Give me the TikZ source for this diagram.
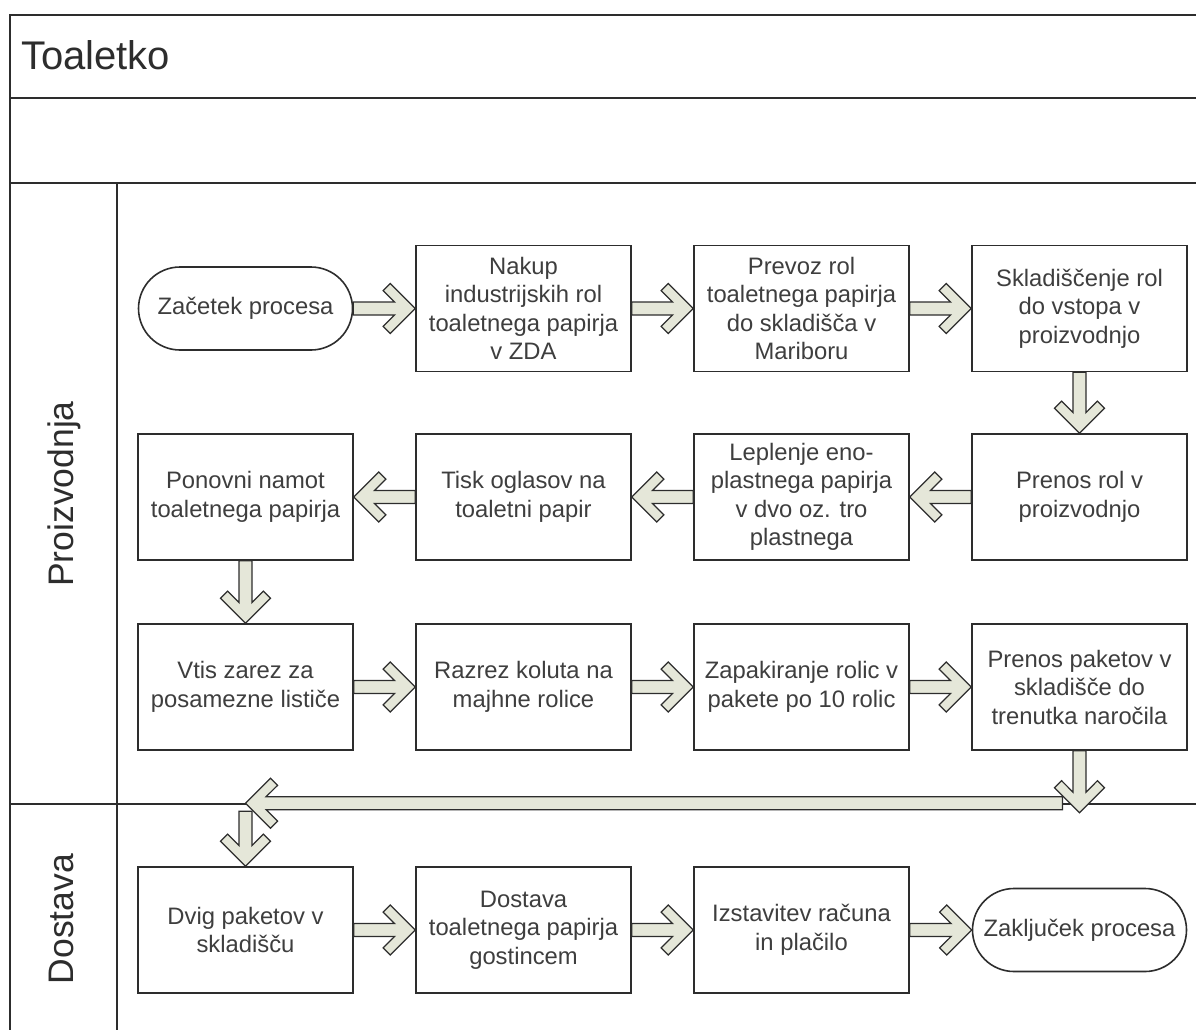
\documentclass[tikz,border=0pt]{standalone}
\usepackage{fontspec}
\setmainfont{Liberation Sans}
\usetikzlibrary{positioning}
\usetikzlibrary{shapes.misc}
\usetikzlibrary{calc}

\definecolor{linegray}{RGB}{45,45,45}
\definecolor{textgray}{RGB}{62,62,62}
\definecolor{arrowfill}{RGB}{229,231,217}

% point of a block arrow: #1 back from the tip, #2 to the side
\newcommand{\arrpt}[2]{({\x2-(#1)*\n2-(#2)*\n3},{\y2-(#1)*\n3+(#2)*\n2})}

\begin{document}
\begin{tikzpicture}[x=1pt,y=-1pt,node distance=278pt,
    box node/.style={rectangle,draw=linegray,line width=1.6pt,fill=white,
      minimum width=215pt,minimum height=126pt,inner sep=0pt,align=center,
      text=textgray,font=\fontsize{23.8}{28.5}\selectfont},
    term node/.style={box node,rounded rectangle,minimum width=214pt,minimum height=83pt},
    lane/.style={draw=linegray,line width=1.6pt},
    every edge/.style={draw=linegray,fill=arrowfill,line width=1.2pt,line join=miter,
      to path={let \p1=(\tikztostart),\p2=(\tikztotarget),
        \n1={veclen(\x2-\x1,\y2-\y1)},\n2={(\x2-\x1)/\n1},\n3={(\y2-\y1)/\n1} in
        \arrpt{\n1}{6.5} -- \arrpt{20.6}{6.5} -- \arrpt{32.1}{17.9} -- \arrpt{25}{25}
        -- (\p2) -- \arrpt{25}{-25} -- \arrpt{32.1}{-17.9} -- \arrpt{20.6}{-6.5}
        -- \arrpt{\n1}{-6.5} -- cycle}}]

  \useasboundingbox (0,0) rectangle (1196,1030);

  % pool and lanes
  \draw[lane] (1196,15) -- (10,15) -- (10,1030);
  \draw[lane] (10,98) -- (1196,98);
  \draw[lane] (10,183) -- (1196,183);
  \draw[lane] (10,804) -- (1196,804);
  \draw[lane] (117,183) -- (117,1030);

  \node[anchor=base west,inner sep=0pt,text=linegray,font=\fontsize{40}{44}\selectfont] (title) at (21,70) {Toaletko};
  \node[rotate=90,anchor=base,inner sep=0pt,text=linegray,font=\fontsize{35.5}{40}\selectfont] (lane1) at (73,494) {Proizvodnja};
  \node[rotate=90,anchor=base,inner sep=0pt,text=linegray,font=\fontsize{35.5}{40}\selectfont] (lane2) at (73,919) {Dostava};

  \node[term node] (0) at (245.5,308.5) {Začetek procesa};
  \node[box node] (1) [right of=0] {Nakup\\industrijskih rol\\toaletnega papirja\\v ZDA};
  \node[box node] (2) [right of=1] {Prevoz rol\\toaletnega papirja\\do skladišča v\\Mariboru};
  \node[box node] (3) [right of=2] {Skladiščenje rol\\do vstopa v\\proizvodnjo};
  \node[box node] (4) [node distance=188.5pt,below of=3] {Prenos rol v\\proizvodnjo};
  \node[box node] (5) [left of=4] {Leplenje eno-\\plastnega papirja\\v dvo oz. tro\\plastnega};
  \node[box node] (6) [left of=5] {Tisk oglasov na\\toaletni papir};
  \node[box node] (7) [left of=6] {Ponovni namot\\toaletnega papirja};
  \node[box node] (8) [node distance=190pt,below of=7] {Vtis zarez za\\posamezne lističe};
  \node[box node] (9) [right of=8] {Razrez koluta na\\majhne rolice};
  \node[box node] (10) [right of=9] {Zapakiranje rolic v\\pakete po 10 rolic};
  \node[box node] (11) [right of=10] {Prenos paketov v\\skladišče do\\trenutka naročila};
  \node[box node] (12) [node distance=243pt,below of=8] {Dvig paketov v\\skladišču};
  \node[box node] (13) [right of=12] {Dostava\\toaletnega papirja\\gostincem};
  \node[box node] (14) [right of=13] {Izstavitev računa\\in plačilo};
  \node[term node] (15) [right of=14] {Zaključek procesa};

  \coordinate[above=63pt of 12.north] (12a);
  \coordinate[above=55pt of 12.north] (12b);
  \coordinate[below=62pt of 11.south] (11a);
  \coordinate[xshift=-17pt] (11b) at (11.south |- 12a);

  \path
    (0.east) edge (1.west)
    (1.east) edge (2.west)
    (2.east) edge (3.west)
    (3.south) edge (4.north)
    (4.west) edge (5.east)
    (5.west) edge (6.east)
    (6.west) edge (7.east)
    (7.south) edge (8.north)
    (8.east) edge (9.west)
    (9.east) edge (10.west)
    (10.east) edge (11.west)
    (12b) edge (12.north)
    (11b) edge (12a)
    (11.south) edge (11a)
    (12.east) edge (13.west)
    (13.east) edge (14.west)
    (14.east) edge (15.west);

\end{tikzpicture}
\end{document}
